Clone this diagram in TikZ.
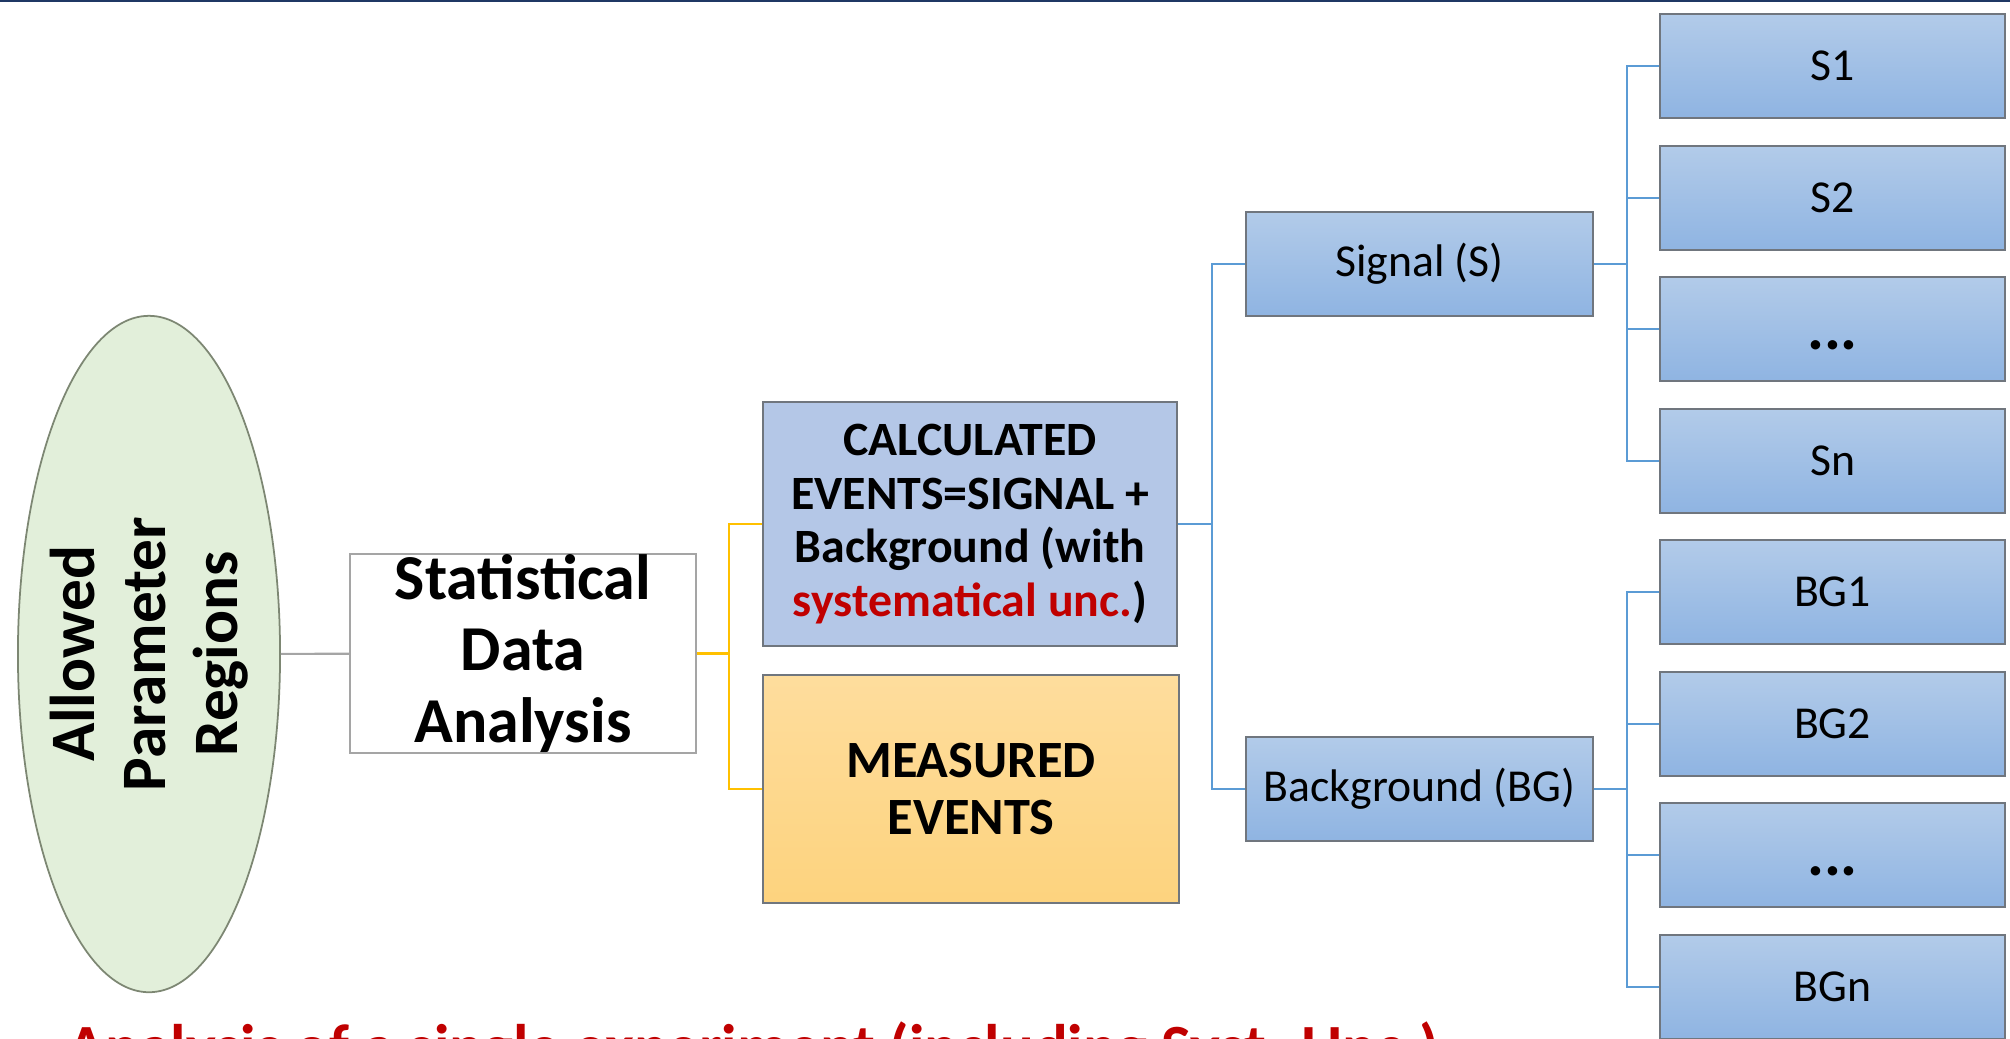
\documentclass[tikz,border=0pt]{standalone}
\usepackage{fontspec}
\setmainfont{Carlito}
\usetikzlibrary{shapes.geometric}
\definecolor{navy}{RGB}{31,56,100}
\definecolor{bltop}{RGB}{178,203,233}
\definecolor{blbot}{RGB}{143,180,226}
\definecolor{calcfill}{RGB}{180,199,231}
\definecolor{ortop}{RGB}{254,221,157}
\definecolor{orbot}{RGB}{253,211,126}
\definecolor{ellfill}{RGB}{226,239,218}
\definecolor{ellline}{RGB}{125,135,115}
\definecolor{boxline}{RGB}{112,118,126}
\definecolor{conblue}{RGB}{91,155,213}
\definecolor{conorange}{RGB}{255,192,0}
\definecolor{congray}{RGB}{165,165,165}
\definecolor{redtxt}{RGB}{192,0,0}
\tikzset{
  leafbox/.style={draw=boxline, line width=0.5pt, top color=bltop, bottom color=blbot,
    minimum width=3.45cm, minimum height=1.04cm, inner sep=0pt,
    font=\fontsize{13}{15}\selectfont},
  dotbox/.style={leafbox, font=\bfseries\fontsize{18}{20}\selectfont},
  midbox/.style={leafbox, minimum width=3.47cm},
  bline/.style={draw=conblue, line width=0.6pt},
  oline/.style={draw=conorange, line width=0.6pt},
  gline/.style={draw=congray, line width=0.6pt}
}
\begin{document}
\begin{tikzpicture}[x=0.01cm, y=-0.01cm]
\useasboundingbox (0,0) rectangle (2010,1038);
\clip (0,0) rectangle (2010,1038);
\draw[navy, line width=0.6pt] (0,1) -- (2010,1);

% ellipse
\node[ellipse, draw=ellline, line width=0.5pt, fill=ellfill,
  minimum width=2.62cm, minimum height=6.76cm, inner sep=0pt] (ell) at (149,654) {};
\node[rotate=90, inner sep=0pt, align=center,
  font=\bfseries\fontsize{18}{20.3}\selectfont] (elltxt) at (ell.center)
  {Allowed\\Parameter\\Regions};

% statistical data analysis
\node[draw=congray, line width=0.6pt, fill=white, minimum width=3.46cm, minimum height=1.93cm,
  inner sep=0pt, align=center, font=\bfseries\fontsize{18.2}{20.4}\selectfont] (stat) at (523,653.5)
  {Statistical\\Data\\Analysis};

% calculated events
\node[draw=boxline, line width=0.5pt, fill=calcfill, minimum width=4.14cm, minimum height=2.44cm,
  inner sep=0pt, align=center, font=\bfseries\fontsize{13.6}{15.2}\selectfont] (calc) at (970,524)
  {CALCULATED\\EVENTS=SIGNAL +\\Background (with\\\textcolor{redtxt}{systematical unc.})};

% measured events
\node[draw=boxline, line width=0.5pt, top color=ortop, bottom color=orbot, minimum width=4.16cm,
  minimum height=2.28cm, inner sep=0pt, align=center,
  font=\bfseries\fontsize{14.9}{16.4}\selectfont] (meas) at (971,789)
  {MEASURED\\EVENTS};

% signal / background
\node[midbox] (sig) at (1419.5,264) {Signal (S)};
\node[midbox] (bg) at (1419.5,789) {Background (BG)};

% leaves
\node[leafbox] (s1) at (1832.5,66) {S1};
\node[leafbox] (s2) at (1832.5,198) {S2};
\node[dotbox] (sd) at (1832.5,329) {\vphantom{S}...};
\node[leafbox] (sn) at (1832.5,461) {Sn};
\node[leafbox] (b1) at (1832.5,592) {BG1};
\node[leafbox] (b2) at (1832.5,724) {BG2};
\node[dotbox] (bd) at (1832.5,855) {\vphantom{S}...};
\node[leafbox] (bn) at (1832.5,987) {BGn};

% connectors
\draw[gline] (ell) -- (stat);

\coordinate (oj) at (729,653.5);
\draw[oline] (stat.east) -- (oj);
\draw[oline] (calc.west) -| (oj);
\draw[oline] (meas.west) -| (oj);

\coordinate (mj) at (1212,524);
\draw[bline] (calc.east) -- (mj);
\draw[bline] (sig.west) -| (mj);
\draw[bline] (bg.west) -| (mj);

\coordinate (sj) at (1627,264);
\draw[bline] (sig.east) -- (sj);
\draw[bline] (s1.west) -| (sj);
\draw[bline] (sn.west) -| (sj);
\draw[bline] (s2.west) -- (s2.west -| sj);
\draw[bline] (sd.west) -- (sd.west -| sj);

\coordinate (bj) at (1627,789);
\draw[bline] (bg.east) -- (bj);
\draw[bline] (b1.west) -| (bj);
\draw[bline] (bn.west) -| (bj);
\draw[bline] (b2.west) -- (b2.west -| bj);
\draw[bline] (bd.west) -- (bd.west -| bj);

% bottom caption (cut off by page edge, as in the reference)
\node[anchor=base west, inner sep=0pt, text=redtxt,
  font=\bfseries\fontsize{17.9}{20}\selectfont] (cap) at (67,1068)
  {Analysis of a single experiment (including Syst. Unc.)};
\end{tikzpicture}
\end{document}
